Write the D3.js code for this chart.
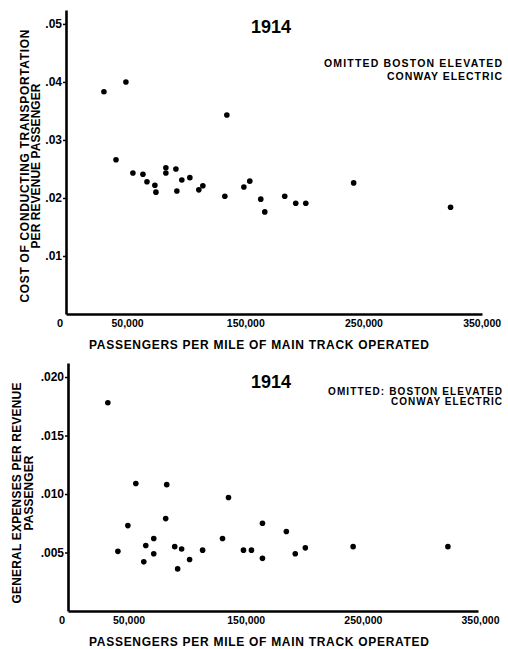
<!DOCTYPE html>
<html>
<head>
<meta charset="utf-8">
<script src="https://cdn.jsdelivr.net/npm/d3@7"></script>
<style>
  body { margin: 0; background: #fff; }
  svg { display: block; }
  text { font-family: "Liberation Sans", Arial, sans-serif; font-weight: bold; fill: #000; }
</style>
</head>
<body>
<script>
// Passengers per mile of main track operated vs cost, 1914
var costPassengers = [32100, 50700, 136100, 42300, 56600, 65100, 68500, 75200, 76100, 84500, 84500, 93000, 93800, 98000,
    104800, 112400, 115800, 134400, 150500, 155500, 164800, 168200, 185100, 194400, 202900, 243400, 325400];
var costValues = [0.0383, 0.0400, 0.0343, 0.0266, 0.0243, 0.0241, 0.0228, 0.0222, 0.0210, 0.0252, 0.0243, 0.0250, 0.0212, 0.0231,
    0.0235, 0.0214, 0.0221, 0.0203, 0.0219, 0.0229, 0.0198, 0.0176, 0.0203, 0.0191, 0.0191, 0.0226, 0.0184];

// Passengers per mile vs general expenses, 1914
var generalPassengers = [34000, 42600, 51100, 57900, 66400, 64700, 73200, 73200, 83400, 84300, 91100, 97000, 93600, 103800,
    114900, 131900, 137000, 149800, 156600, 166000, 166000, 186400, 194000, 202600, 243400, 324300];
var generalValues = [0.0178, 0.0051, 0.0073, 0.0109, 0.0056, 0.0042, 0.0062, 0.0049, 0.0079, 0.0108, 0.0055, 0.0053, 0.0036, 0.0044,
    0.0052, 0.0062, 0.0097, 0.0052, 0.0052, 0.0075, 0.0045, 0.0068, 0.0049, 0.0054, 0.0055, 0.0055];

// Tick values and their labels
var xTicks = [50000, 150000, 250000, 350000];
var xTickLabels = ["50,000", "150,000", "250,000", "350,000"];
var costTicks = [0.01, 0.02, 0.03, 0.04, 0.05];
var costTickLabels = [".01", ".02", ".03", ".04", ".05"];
var generalTicks = [0.005, 0.010, 0.015, 0.020];
var generalTickLabels = [".005", ".010", ".015", ".020"];

var svg = d3.select("body")
    .append("svg")
    .attr("width", 508)
    .attr("height", 649);

function drawPanel(opts) {
    var x = d3.scaleLinear().domain([0, opts.xMax]).range([opts.left, opts.right]);
    var y = d3.scaleLinear().domain([0, opts.yMax]).range([opts.bottom, opts.top]);
    var g = svg.append("g");

    // y axis (labels sit left of a short tick)
    var yAxis = d3.axisLeft(y)
        .tickValues(opts.yTicks)
        .tickSize(3)
        .tickSizeOuter(0)
        .tickFormat(function (d, i) { return opts.yTickLabels[i]; });
    var ya = g.append("g")
        .attr("transform", "translate(" + opts.left + ",0)")
        .call(yAxis);
    ya.select(".domain").attr("stroke", "#000").attr("stroke-width", 2.6);
    ya.selectAll(".tick line").attr("stroke-width", 1.5);
    ya.selectAll(".tick text").attr("font-size", 12).attr("x", -4).attr("font-family", null);

    // x axis
    var xAxis = d3.axisBottom(x)
        .tickValues(xTicks)
        .tickSize(0)
        .tickSizeOuter(0)
        .tickFormat(function (d, i) { return xTickLabels[i]; });
    var xa = g.append("g")
        .attr("transform", "translate(0," + opts.bottom + ")")
        .call(xAxis);
    xa.select(".domain").attr("stroke", "#000").attr("stroke-width", 2.6);
    xa.selectAll(".tick text").attr("font-size", 10.5).attr("dx", 2).attr("y", 6).attr("font-family", null);

    // origin label
    g.append("text")
        .attr("x", opts.left - 6)
        .attr("y", opts.bottom + 13)
        .attr("text-anchor", "middle")
        .attr("font-size", 11)
        .text("0");

    // points
    g.selectAll("circle")
        .data(opts.xs)
        .enter().append("circle")
        .attr("cx", function (d) { return x(d); })
        .attr("cy", function (d, i) { return y(opts.ys[i]); })
        .attr("r", 2.8)
        .attr("fill", "#000");

    // year
    g.append("text")
        .attr("x", 251)
        .attr("y", opts.yearY)
        .attr("font-size", 18)
        .text("1914");

    // note on omitted roads
    g.append("text")
        .attr("x", 502)
        .attr("y", opts.noteY)
        .attr("text-anchor", "end")
        .attr("font-size", opts.noteSize)
        .attr("textLength", opts.noteLen[0])
        .text(opts.noteText);
    g.append("text")
        .attr("x", 502)
        .attr("y", opts.noteY + opts.noteGap)
        .attr("text-anchor", "end")
        .attr("font-size", opts.noteSize)
        .attr("textLength", opts.noteLen[1])
        .text("CONWAY ELECTRIC");

    // x axis title
    g.append("text")
        .attr("x", 259)
        .attr("y", opts.xTitleY)
        .attr("text-anchor", "middle")
        .attr("font-size", 12)
        .attr("textLength", 340)
        .text("PASSENGERS PER MILE OF MAIN TRACK OPERATED");

    // y axis title, two lines
    opts.yTitle.forEach(function (line, i) {
        g.append("text")
            .attr("transform", "translate(" + opts.yTitleX[i] + "," + opts.yTitleCy + ") rotate(-90)")
            .attr("text-anchor", "middle")
            .attr("font-size", 12)
            .attr("textLength", opts.yTitleLen[i])
            .text(line);
    });
}

drawPanel({
    xs: costPassengers, ys: costValues,
    xMax: 352000, yMax: 0.0524,
    left: 66, right: 482, top: 10, bottom: 314,
    yTicks: costTicks, yTickLabels: costTickLabels,
    yearY: 33, noteY: 67, noteGap: 13, noteSize: 10.5, noteLen: [178, 115],
    noteText: "OMITTED BOSTON ELEVATED",
    xTitleY: 349,
    yTitle: ["COST OF CONDUCTING TRANSPORTATION", "PER REVENUE PASSENGER"],
    yTitleLen: [273, 165],
    yTitleX: [29, 40], yTitleCy: 166
});

drawPanel({
    xs: generalPassengers, ys: generalValues,
    xMax: 350000, yMax: 0.0212,
    left: 68, right: 478, top: 363, bottom: 611,
    yTicks: generalTicks, yTickLabels: generalTickLabels,
    yearY: 388, noteY: 395, noteGap: 10, noteSize: 10, noteLen: [174, 111],
    noteText: "OMITTED: BOSTON ELEVATED",
    xTitleY: 646,
    yTitle: ["GENERAL EXPENSES PER REVENUE", "PASSENGER"],
    yTitleLen: [221, 75],
    yTitleX: [21, 33], yTitleCy: 493
});
</script>
</body>
</html>
